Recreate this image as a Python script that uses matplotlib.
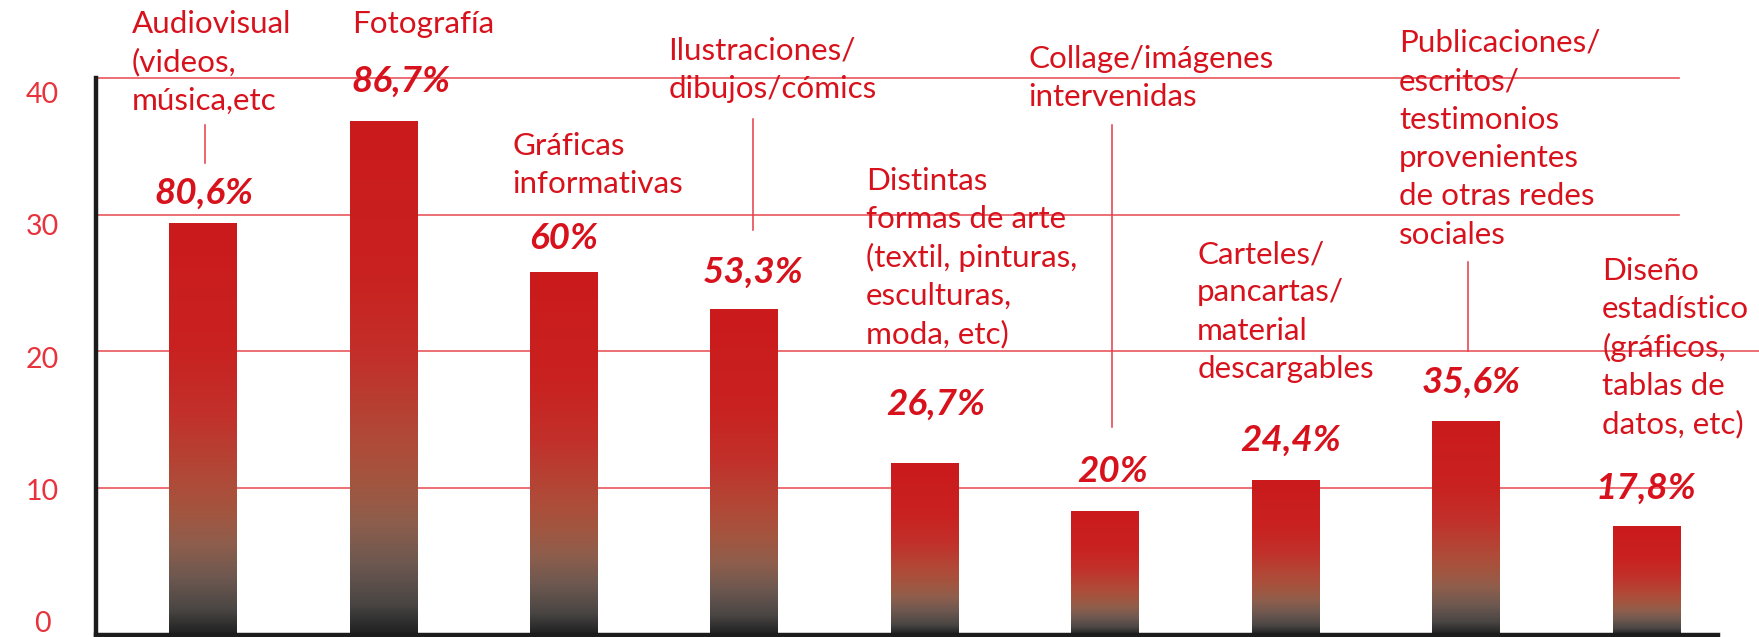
import numpy as np
import matplotlib
matplotlib.use("Agg")
import matplotlib.pyplot as plt
from matplotlib.colors import LinearSegmentedColormap

# datos
categorias = [
    "Audiovisual\n(videos,\nmúsica,etc",
    "Fotografía",
    "Gráficas\ninformativas",
    "Ilustraciones/\ndibujos/cómics",
    "Distintas\nformas de arte\n(textil, pinturas,\nesculturas,\nmoda, etc)",
    "Collage/imágenes\nintervenidas",
    "Carteles/\npancartas/\nmaterial\ndescargables",
    "Publicaciones/\nescritos/\ntestimonios\nprovenientes\nde otras redes\nsociales",
    "Diseño\nestadístico\n(gráficos,\ntablas de\ndatos, etc)",
]
valores = [29.4, 36.9, 25.8, 23.1, 11.8, 8.3, 10.6, 14.9, 7.2]
porcentajes = ["80,6%", "86,7%", "60%", "53,3%", "26,7%", "20%", "24,4%", "35,6%", "17,8%"]
yticks = [0, 10, 20, 30, 40]

# posiciones de las etiquetas (x relativa a la barra, y en unidades del eje)
cat_dx = [-0.394, -0.174, -0.287, -0.422, -0.325, -0.427, -0.49, -0.37, -0.245]
cat_y = [43.33, 43.33, 34.4, 41.36, 31.83, 40.77, 26.48, 41.94, 25.24]
pct_dx = [0.006, 0.098, 0.0, 0.05, 0.06, 0.04, 0.03, 0.03, 0.0]
pct_y = [30.8, 39.0, 27.5, 25.0, 15.4, 10.45, 12.7, 16.97, 9.2]
# lineas guia: barra, dx, y inicio, y fin
guias = [(0, 0.011, 36.6, 33.8), (3, 0.05, 37.03, 28.9),
         (5, 0.04, 36.6, 14.5), (7, 0.01, 26.56, 20.04)]
# hasta donde llega cada linea de la grilla
grid_fin = [8.18, 8.63, 8.18, 8.18]

rojo = "#d7121c"
rojo_grid = "#ea565d"
interlinea = 2.806
ymin = -0.75
ancho = 0.375

cmap = LinearSegmentedColormap.from_list("barra", [
    (0.0, "#202020"), (0.02, "#2c2c2c"), (0.06, "#4a4644"), (0.14, "#6e5850"),
    (0.22, "#8e5e4c"), (0.30, "#a3553f"), (0.38, "#b04a38"), (0.54, "#c2302a"),
    (0.70, "#c92220"), (1.0, "#cb1a1c")])
degradado = np.linspace(0, 1, 256).reshape(-1, 1)

fig = plt.figure(figsize=(17.59, 6.37), dpi=100)
ax = fig.add_axes([0.0547, 0.0036, 0.9220, 0.8732])

x = np.arange(len(valores))

for val in yticks[1:]:
    i = yticks.index(val) - 1
    ax.plot([-0.592, grid_fin[i]], [val, val], color=rojo_grid, lw=1.2,
            zorder=1, clip_on=False)

for i, v in enumerate(valores):
    ax.imshow(degradado, cmap=cmap, origin="lower", aspect="auto",
              extent=(x[i] - ancho / 2, x[i] + ancho / 2, ymin, v), zorder=2)

for b, dx, y0, y1 in guias:
    ax.plot([x[b] + dx, x[b] + dx], [y0, y1], color="#e23c44", lw=1.1,
            zorder=1, clip_on=False)

for i, txt in enumerate(categorias):
    for k, linea in enumerate(txt.split("\n")):
        ax.text(x[i] + cat_dx[i], cat_y[i] - k * interlinea, linea,
                family="Lato", fontsize=22.6, color=rojo,
                ha="left", va="baseline", zorder=4)

for i, p in enumerate(porcentajes):
    ax.text(x[i] + pct_dx[i], pct_y[i], p, family="Lato", fontsize=26.5,
            weight="bold", style="italic", color=rojo,
            ha="center", va="baseline", zorder=4)

tr = ax.get_yaxis_transform()
for t in yticks:
    ax.text(-0.0334, t * 0.97, str(t), transform=tr, family="Lato",
            fontsize=20.5, color="#e8323c", ha="center", va="center")

ax.set_xlim(-0.592, 8.397)
ax.set_ylim(ymin, 40)
ax.set_xticks([])
ax.set_yticks([])
for s in ["top", "right"]:
    ax.spines[s].set_visible(False)
for s in ["left", "bottom"]:
    ax.spines[s].set_linewidth(3.2)
    ax.spines[s].set_color("#1c1c1c")
    ax.spines[s].set_zorder(5)

fig.savefig("out.png", dpi=100)
